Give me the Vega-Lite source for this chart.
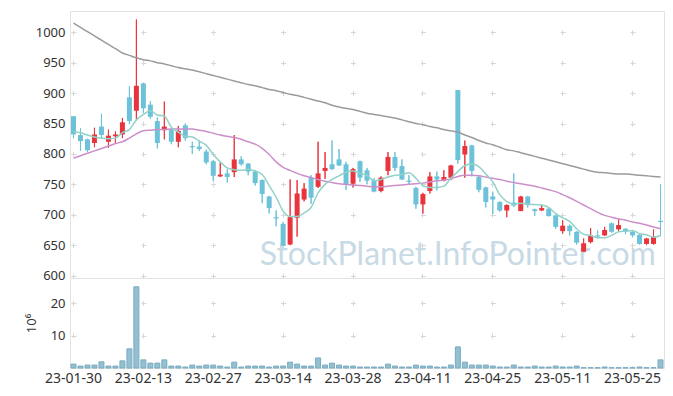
{
"$schema": "https://vega.github.io/schema/vega-lite/v6.json",
"padding": {"left": 24, "top": 10, "right": 10, "bottom": 2},
"background": "white",
"bounds": "flush",
"spacing": 0,
"config": {
  "view": {"stroke": "#e2e2e2"},
  "axis": {"labelFont": "Noto Sans", "labelFontSize": 13, "labelColor": "#333333", "titleFont": "Noto Sans", "titleColor": "#333333", "titleFontWeight": "normal", "titleFontSize": 13, "ticks": false, "tickSize": 0, "domain": false, "gridColor": "#d6d6d6", "gridWidth": 1, "labelOverlap": false},
  "axisY": {"labelOverlap": false},
  "axisQuantitative": {"labelOverlap": false}
},
"datasets": {"p": [
{"d":"23-01-30","o":862,"h":862,"l":826,"c":832,"v":1.2,"m5":836,"m20":793,"m60":1015},
{"d":"23-01-31","o":831,"h":842,"l":805,"c":821,"v":0.6,"m5":835,"m20":797,"m60":1008},
{"d":"23-02-01","o":824,"h":825,"l":803,"c":806,"v":0.9,"m5":831,"m20":801,"m60":1001},
{"d":"23-02-02","o":818,"h":843,"l":811,"c":832,"v":0.9,"m5":828,"m20":805,"m60":994},
{"d":"23-02-03","o":845,"h":866,"l":826,"c":831,"v":1.9,"m5":826,"m20":809,"m60":987},
{"d":"23-02-06","o":820,"h":840,"l":810,"c":830,"v":0.6,"m5":825,"m20":813,"m60":980},
{"d":"23-02-07","o":829,"h":837,"l":818,"c":832,"v":0.6,"m5":826,"m20":817,"m60":973},
{"d":"23-02-08","o":832,"h":859,"l":826,"c":852,"v":2.2,"m5":835,"m20":820,"m60":966},
{"d":"23-02-09","o":893,"h":911,"l":849,"c":854,"v":5.9,"m5":840,"m20":826,"m60":962},
{"d":"23-02-10","o":871,"h":1021,"l":855,"c":912,"v":25.0,"m5":856,"m20":833,"m60":958},
{"d":"23-02-13","o":916,"h":917,"l":867,"c":875,"v":2.5,"m5":865,"m20":838,"m60":955},
{"d":"23-02-14","o":881,"h":887,"l":858,"c":861,"v":1.5,"m5":871,"m20":839,"m60":953},
{"d":"23-02-15","o":854,"h":860,"l":809,"c":818,"v":1.5,"m5":864,"m20":840,"m60":950},
{"d":"23-02-16","o":839,"h":886,"l":824,"c":845,"v":2.5,"m5":862,"m20":840,"m60":948},
{"d":"23-02-17","o":840,"h":842,"l":816,"c":820,"v":0.6,"m5":844,"m20":841,"m60":945},
{"d":"23-02-20","o":820,"h":846,"l":811,"c":838,"v":0.6,"m5":836,"m20":841,"m60":942},
{"d":"23-02-21","o":847,"h":850,"l":822,"c":826,"v":0.3,"m5":829,"m20":841,"m60":940},
{"d":"23-02-22","o":813,"h":820,"l":800,"c":811,"v":0.9,"m5":828,"m20":841,"m60":938},
{"d":"23-02-23","o":812,"h":822,"l":805,"c":808,"v":0.6,"m5":821,"m20":839,"m60":935},
{"d":"23-02-24","o":804,"h":807,"l":783,"c":786,"v":0.9,"m5":814,"m20":837,"m60":932},
{"d":"23-02-27","o":788,"h":790,"l":755,"c":764,"v":0.9,"m5":799,"m20":834,"m60":929},
{"d":"23-02-28","o":763,"h":786,"l":762,"c":766,"v":0.6,"m5":787,"m20":831,"m60":926},
{"d":"23-03-02","o":768,"h":775,"l":753,"c":762,"v":0.3,"m5":777,"m20":829,"m60":923},
{"d":"23-03-03","o":770,"h":831,"l":762,"c":791,"v":1.8,"m5":774,"m20":827,"m60":920},
{"d":"23-03-06","o":791,"h":796,"l":781,"c":783,"v":0.3,"m5":773,"m20":824,"m60":917},
{"d":"23-03-07","o":784,"h":785,"l":765,"c":771,"v":0.6,"m5":775,"m20":820,"m60":914},
{"d":"23-03-08","o":771,"h":773,"l":748,"c":752,"v":0.6,"m5":772,"m20":816,"m60":912},
{"d":"23-03-09","o":757,"h":758,"l":719,"c":734,"v":0.6,"m5":766,"m20":809,"m60":909},
{"d":"23-03-10","o":730,"h":731,"l":702,"c":711,"v":0.3,"m5":748,"m20":799,"m60":906},
{"d":"23-03-13","o":696,"h":707,"l":681,"c":694,"v":0.6,"m5":729,"m20":787,"m60":904},
{"d":"23-03-14","o":685,"h":688,"l":649,"c":649,"v":0.6,"m5":706,"m20":778,"m60":901},
{"d":"23-03-15","o":651,"h":758,"l":650,"c":696,"v":1.8,"m5":697,"m20":773,"m60":898},
{"d":"23-03-16","o":695,"h":757,"l":664,"c":735,"v":1.2,"m5":697,"m20":768,"m60":896},
{"d":"23-03-17","o":725,"h":752,"l":722,"c":743,"v":0.6,"m5":703,"m20":764,"m60":893},
{"d":"23-03-20","o":761,"h":765,"l":718,"c":728,"v":0.6,"m5":712,"m20":761,"m60":890},
{"d":"23-03-21","o":746,"h":820,"l":744,"c":768,"v":3.1,"m5":736,"m20":758,"m60":887},
{"d":"23-03-22","o":772,"h":803,"l":759,"c":777,"v":0.9,"m5":750,"m20":755,"m60":884},
{"d":"23-03-23","o":783,"h":822,"l":774,"c":775,"v":1.5,"m5":758,"m20":753,"m60":880},
{"d":"23-03-24","o":791,"h":808,"l":780,"c":781,"v":0.9,"m5":764,"m20":751,"m60":877},
{"d":"23-03-27","o":783,"h":787,"l":741,"c":750,"v":0.6,"m5":770,"m20":750,"m60":875},
{"d":"23-03-28","o":751,"h":777,"l":745,"c":775,"v":0.6,"m5":772,"m20":749,"m60":873},
{"d":"23-03-29","o":788,"h":789,"l":754,"c":761,"v":0.3,"m5":768,"m20":748,"m60":870},
{"d":"23-03-30","o":773,"h":777,"l":750,"c":756,"v":0.3,"m5":765,"m20":747,"m60":867},
{"d":"23-03-31","o":757,"h":760,"l":737,"c":738,"v":0.3,"m5":756,"m20":746,"m60":865},
{"d":"23-04-03","o":739,"h":763,"l":737,"c":761,"v":0.3,"m5":758,"m20":746,"m60":863},
{"d":"23-04-04","o":772,"h":803,"l":765,"c":795,"v":1.2,"m5":762,"m20":747,"m60":861},
{"d":"23-04-05","o":795,"h":803,"l":772,"c":777,"v":0.6,"m5":765,"m20":748,"m60":859},
{"d":"23-04-06","o":780,"h":791,"l":757,"c":758,"v":0.3,"m5":766,"m20":749,"m60":856},
{"d":"23-04-07","o":756,"h":765,"l":750,"c":754,"v":0.3,"m5":769,"m20":750,"m60":853},
{"d":"23-04-10","o":744,"h":746,"l":710,"c":717,"v":0.9,"m5":760,"m20":751,"m60":850},
{"d":"23-04-11","o":717,"h":736,"l":702,"c":734,"v":0.6,"m5":748,"m20":752,"m60":848},
{"d":"23-04-12","o":739,"h":770,"l":735,"c":763,"v":0.6,"m5":745,"m20":754,"m60":845},
{"d":"23-04-13","o":763,"h":771,"l":740,"c":758,"v":0.3,"m5":745,"m20":756,"m60":843},
{"d":"23-04-14","o":756,"h":773,"l":755,"c":762,"v":0.3,"m5":747,"m20":757,"m60":840},
{"d":"23-04-17","o":761,"h":782,"l":757,"c":781,"v":0.9,"m5":760,"m20":759,"m60":838},
{"d":"23-04-18","o":905,"h":905,"l":784,"c":790,"v":6.5,"m5":771,"m20":763,"m60":836},
{"d":"23-04-19","o":799,"h":822,"l":761,"c":813,"v":1.8,"m5":781,"m20":765,"m60":831},
{"d":"23-04-20","o":814,"h":815,"l":763,"c":772,"v":0.9,"m5":784,"m20":765,"m60":827},
{"d":"23-04-21","o":762,"h":765,"l":737,"c":741,"v":0.9,"m5":779,"m20":764,"m60":822},
{"d":"23-04-24","o":745,"h":746,"l":712,"c":721,"v":0.9,"m5":767,"m20":762,"m60":818},
{"d":"23-04-25","o":730,"h":738,"l":701,"c":725,"v":0.6,"m5":754,"m20":760,"m60":815},
{"d":"23-04-26","o":721,"h":722,"l":705,"c":707,"v":0.3,"m5":733,"m20":758,"m60":811},
{"d":"23-04-27","o":707,"h":717,"l":696,"c":716,"v":0.3,"m5":722,"m20":755,"m60":807},
{"d":"23-04-28","o":720,"h":768,"l":713,"c":715,"v":0.9,"m5":717,"m20":753,"m60":805},
{"d":"23-05-02","o":706,"h":731,"l":706,"c":730,"v":0.3,"m5":719,"m20":751,"m60":802},
{"d":"23-05-03","o":730,"h":731,"l":712,"c":716,"v":0.3,"m5":717,"m20":749,"m60":799},
{"d":"23-05-04","o":709,"h":710,"l":698,"c":706,"v":0.6,"m5":717,"m20":747,"m60":796},
{"d":"23-05-08","o":707,"h":716,"l":706,"c":711,"v":0.3,"m5":716,"m20":744,"m60":793},
{"d":"23-05-09","o":710,"h":711,"l":697,"c":698,"v":0.3,"m5":712,"m20":741,"m60":790},
{"d":"23-05-10","o":699,"h":700,"l":677,"c":680,"v":0.6,"m5":702,"m20":738,"m60":787},
{"d":"23-05-11","o":673,"h":691,"l":669,"c":682,"v":0.3,"m5":695,"m20":733,"m60":784},
{"d":"23-05-12","o":682,"h":684,"l":666,"c":673,"v":0.3,"m5":689,"m20":728,"m60":781},
{"d":"23-05-15","o":672,"h":673,"l":651,"c":654,"v":0.6,"m5":677,"m20":722,"m60":778},
{"d":"23-05-16","o":639,"h":661,"l":639,"c":653,"v":0.1,"m5":668,"m20":716,"m60":775},
{"d":"23-05-17","o":655,"h":678,"l":653,"c":666,"v":0.1,"m5":666,"m20":710,"m60":772},
{"d":"23-05-18","o":666,"h":674,"l":661,"c":664,"v":0.1,"m5":662,"m20":704,"m60":770},
{"d":"23-05-19","o":666,"h":680,"l":665,"c":675,"v":0.3,"m5":662,"m20":699,"m60":769},
{"d":"23-05-22","o":686,"h":687,"l":670,"c":672,"v":0.1,"m5":666,"m20":696,"m60":768},
{"d":"23-05-23","o":676,"h":694,"l":672,"c":683,"v":0.1,"m5":672,"m20":693,"m60":767},
{"d":"23-05-24","o":677,"h":678,"l":668,"c":673,"v":0.1,"m5":673,"m20":691,"m60":767},
{"d":"23-05-25","o":672,"h":673,"l":663,"c":666,"v":0.1,"m5":674,"m20":688,"m60":766},
{"d":"23-05-26","o":667,"h":669,"l":651,"c":652,"v":0.3,"m5":669,"m20":686,"m60":765},
{"d":"23-05-30","o":652,"h":662,"l":650,"c":661,"v":0.1,"m5":667,"m20":683,"m60":764},
{"d":"23-05-31","o":652,"h":676,"l":651,"c":664,"v":0.1,"m5":663,"m20":680,"m60":763},
{"d":"23-06-01","o":690,"h":750,"l":665,"c":688,"v":2.5,"m5":666,"m20":677,"m60":762}
]},
"vconcat": [
{
  "width": 594, "height": 267,
  "data": {"name": "p"},
  "encoding": {
    "x": {"field": "d", "type": "ordinal", "scale": {"paddingInner": 0, "paddingOuter": 0},
      "axis": {"labels": false, "title": null, "grid": true, "gridDash": [5, 25.41], "gridDashOffset": 11.61,
        "values": ["23-01-30","23-02-13","23-02-27","23-03-14","23-03-28","23-04-11","23-04-25","23-05-11","23-05-25"]}}
  },
  "layer": [
    {
      "mark": {"type": "rule", "strokeWidth": 1},
      "encoding": {
        "y": {"field": "l", "type": "quantitative", "title": null,
          "scale": {"domain": [596, 1035], "nice": false, "zero": false},
          "axis": {"values": [600,650,700,750,800,850,900,950,1000], "tickCount": 9, "labelExpr": "format(datum.value, 'd')", "labelOverlap": false, "labelSeparation": 0, "labelPadding": 5, "grid": true, "gridDash": [5, 64.88], "gridDashOffset": 68.89}},
        "y2": {"field": "h"},
        "color": {"condition": {"test": "datum.c >= datum.o", "value": "#e8353d"}, "value": "#6cc2d9"}
      }
    },
    {
      "data": {"values": [{"t": "StockPlanet.InfoPointer.com"}]},
      "mark": {"type": "text", "font": "Lato", "fontSize": 32, "color": "#c8dae5", "align": "center", "baseline": "middle"},
      "encoding": {
        "x": {"datum": "23-04-18", "type": "ordinal"},
        "y": {"datum": 633, "type": "quantitative"},
        "text": {"field": "t"}
      }
    },
    {
      "mark": {"type": "rule", "strokeWidth": 1},
      "encoding": {
        "y": {"field": "l", "type": "quantitative", "title": null},
        "y2": {"field": "h"},
        "color": {"condition": {"test": "datum.c >= datum.o", "value": "#e8353d"}, "value": "#6cc2d9"}
      }
    },
    {
      "mark": {"type": "bar", "size": 5},
      "encoding": {
        "y": {"field": "o", "type": "quantitative", "title": null},
        "y2": {"field": "c"},
        "color": {"condition": {"test": "datum.c >= datum.o", "value": "#e8353d"}, "value": "#6cc2d9"}
      }
    },
    {
      "mark": {"type": "line", "color": "#9b9b9b", "strokeWidth": 1.5, "interpolate": "monotone"},
      "encoding": {"y": {"field": "m60", "type": "quantitative", "title": null}}
    },
    {
      "mark": {"type": "line", "color": "#cc8fca", "strokeWidth": 1.5, "interpolate": "monotone"},
      "encoding": {"y": {"field": "m20", "type": "quantitative", "title": null}}
    },
    {
      "mark": {"type": "line", "color": "#92d2c8", "strokeWidth": 1.5, "interpolate": "monotone"},
      "encoding": {"y": {"field": "m5", "type": "quantitative", "title": null}}
    }
  ]
},
{
  "width": 594, "height": 90,
  "data": {"name": "p"},
  "mark": {"type": "bar", "size": 5, "fill": "#93c0d1", "stroke": "#79abc0", "strokeWidth": 1},
  "encoding": {
    "x": {"field": "d", "type": "ordinal", "scale": {"paddingInner": 0, "paddingOuter": 0},
      "axis": {"title": null, "labelAngle": 0, "labelPadding": 3, "labelFontSize": 14, "grid": true, "gridDash": [5, 27.5], "gridDashOffset": 10,
        "values": ["23-01-30","23-02-13","23-02-27","23-03-14","23-03-28","23-04-11","23-04-25","23-05-11","23-05-25"]}},
    "y": {"field": "v", "type": "quantitative", "title": "10⁶",
      "scale": {"domain": [0, 27.7], "nice": false},
      "axis": {"values": [10, 20], "labelPadding": 5, "titlePadding": 0, "minExtent": 32, "maxExtent": 32, "grid": true, "gridDash": [5, 64.88], "gridDashOffset": 68.89}}
  }
}
]
}
